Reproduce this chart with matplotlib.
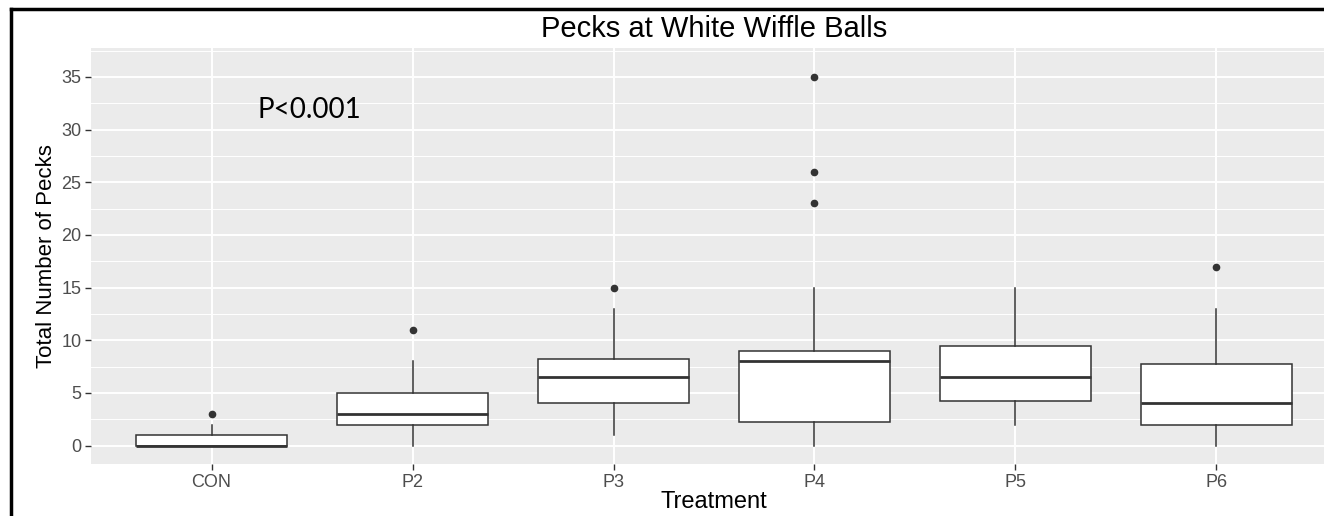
import matplotlib
matplotlib.use('Agg')
import matplotlib.pyplot as plt
from matplotlib.lines import Line2D

# box statistics
groups = ['CON', 'P2', 'P3', 'P4', 'P5', 'P6']
q1 = [0, 2, 4, 2.25, 4.25, 2]
med = [0, 3, 6.5, 8, 6.5, 4]
q3 = [1, 5, 8.25, 9, 9.5, 7.75]
whislo = [0, 0, 1, 0, 2, 0]
whishi = [2, 8, 13, 15, 15, 13]
fliers = [[3], [11], [15], [23, 26, 35], [], [17]]

plt.rcParams['font.family'] = ['Liberation Sans', 'DejaVu Sans']

fig = plt.figure(figsize=(13.24, 5.16), dpi=100)
W, H = 1324, 516
# panel spans past the right edge like in the cropped original
left, right, top, bottom = 91, 1337, 48, 464
ax = fig.add_axes([left / W, 1 - bottom / H, (right - left) / W, (bottom - top) / H])
ax.set_facecolor('#EBEBEB')

stats = []
for i, g in enumerate(groups):
    stats.append(dict(label=g, q1=q1[i], med=med[i], q3=q3[i],
                      whislo=whislo[i], whishi=whishi[i], fliers=fliers[i]))

ax.bxp(stats, positions=range(1, len(groups) + 1), widths=0.75,
       patch_artist=True, showcaps=False, zorder=3,
       boxprops=dict(facecolor='white', edgecolor='#333333', linewidth=1.1),
       medianprops=dict(color='#333333', linewidth=2),
       whiskerprops=dict(color='#333333', linewidth=1.1),
       flierprops=dict(marker='o', markerfacecolor='#333333', markeredgecolor='#333333',
                       markersize=4.5))

ax.set_xlim(0.4, 6.6)
ax.set_ylim(-1.75, 37.75)
ax.set_yticks(range(0, 36, 5))
ax.set_yticks([2.5 + 5 * k for k in range(8)], minor=True)
ax.grid(which='major', color='white', linewidth=1.4)
ax.grid(which='minor', axis='y', color='white', linewidth=0.7)
ax.set_axisbelow(True)
for s in ax.spines.values():
    s.set_visible(False)

ax.tick_params(axis='both', which='major', length=4, width=1, color='#333333',
               labelcolor='#4D4D4D', labelsize=13, pad=3)
ax.tick_params(axis='y', which='minor', length=0)

ax.set_xlabel('Treatment', fontsize=17, labelpad=0)
ax.set_ylabel('Total Number of Pecks', fontsize=16, labelpad=3)
fig.text(258 / W, 1 - 110 / H, 'P<0.001', fontsize=20, family=['Lato', 'DejaVu Sans'],
         va='center', ha='left')

fig.text((left + right) / 2 / W, 1 - 29 / H, 'Pecks at White Wiffle Balls',
         fontsize=21, ha='center', va='center')

# black frame on left and top
fig.add_artist(Line2D([11 / W, 11 / W], [0, 1 - 9 / H], color='black', linewidth=2.5,
                      transform=fig.transFigure))
fig.add_artist(Line2D([11 / W, 1], [1 - 9 / H, 1 - 9 / H], color='black', linewidth=2.5,
                      transform=fig.transFigure))

fig.savefig('out.png', dpi=100)
